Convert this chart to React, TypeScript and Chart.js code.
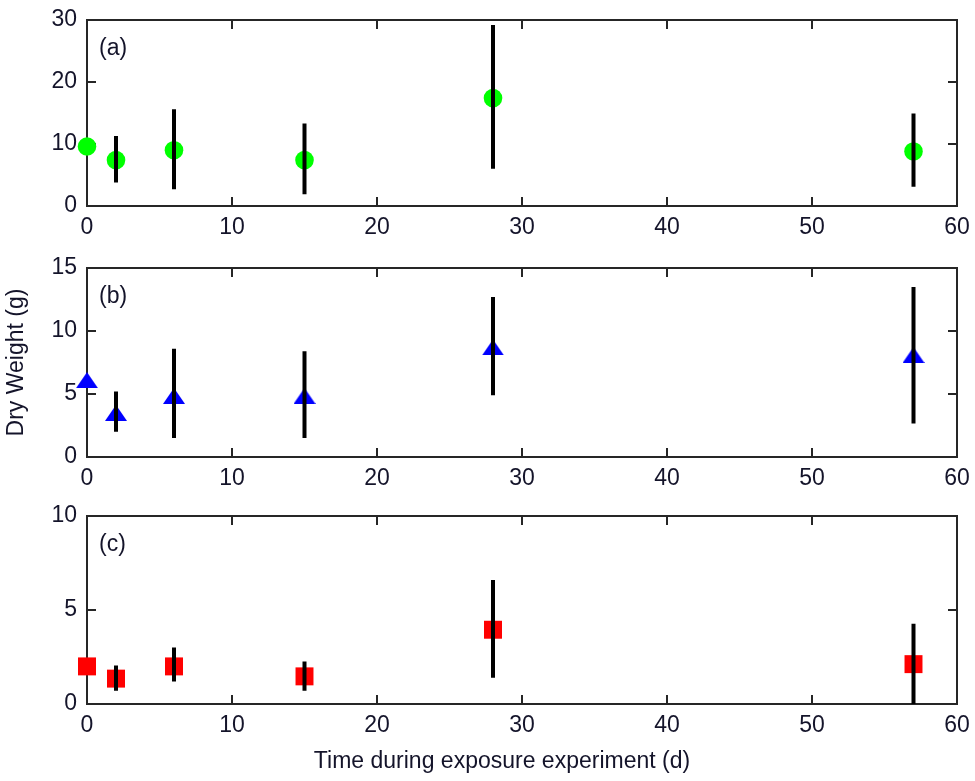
import React, { useEffect, useRef } from 'react';
import { Chart, registerables } from 'chart.js';

Chart.register(...registerables);

// ---------- data ----------
const timeDays = [0, 2, 6, 15, 28, 57];
const xTickValues = [0, 10, 20, 30, 40, 50, 60];

const meanA = [9.6, 7.4, 9.0, 7.4, 17.4, 8.8];
const lowA = [null, 3.8, 2.7, 1.9, 6.0, 3.1];
const highA = [null, 11.3, 15.6, 13.3, 29.2, 14.9];
const yTicksA = [0, 10, 20, 30];

const meanB = [6.1, 3.5, 4.85, 4.85, 8.7, 8.1];
const lowB = [null, 2.0, 1.5, 1.5, 4.9, 2.65];
const highB = [null, 5.2, 8.6, 8.4, 12.7, 13.5];
const yTicksB = [0, 5, 10, 15];

const meanC = [2.0, 1.35, 2.0, 1.47, 3.95, 2.12];
const lowC = [null, 0.7, 1.2, 0.7, 1.4, 0];
const highC = [null, 2.05, 3.0, 2.26, 6.6, 4.27];
const yTicksC = [0, 5, 10];

const panelLabels = ['(a)', '(b)', '(c)'];
const yAxisTitle = 'Dry Weight (g)';
const xAxisTitle = 'Time during exposure experiment (d)';

// ---------- style ----------
const FONT = "'Liberation Sans', Arial, sans-serif";
const FONT_SIZE = 23;
const TEXT_COLOR = '#14142a';
const AXIS_COLOR = '#262626';
const TICK_LEN = 9;
const W = 975;

function makeTriangle(color: string) {
  const c = document.createElement('canvas');
  c.width = 22;
  c.height = 16;
  const g = c.getContext('2d')!;
  g.fillStyle = color;
  g.beginPath();
  g.moveTo(0, 16);
  g.lineTo(22, 16);
  g.lineTo(11, 0);
  g.closePath();
  g.fill();
  return c;
}

const framePlugin = {
  id: 'innerFrame',
  beforeDatasetsDraw(chart: any) {
    const { ctx, chartArea, scales } = chart;
    const { left, right, top, bottom } = chartArea;
    ctx.save();
    ctx.strokeStyle = AXIS_COLOR;
    ctx.lineWidth = 2;
    ctx.beginPath();
    scales.x.ticks.forEach((t: any) => {
      const px = scales.x.getPixelForValue(t.value);
      ctx.moveTo(px, bottom);
      ctx.lineTo(px, bottom - TICK_LEN);
      ctx.moveTo(px, top);
      ctx.lineTo(px, top + TICK_LEN);
    });
    scales.y.ticks.forEach((t: any) => {
      const py = scales.y.getPixelForValue(t.value);
      ctx.moveTo(left, py);
      ctx.lineTo(left + TICK_LEN, py);
      ctx.moveTo(right, py);
      ctx.lineTo(right - TICK_LEN, py);
    });
    ctx.stroke();
    ctx.strokeRect(left, top, right - left, bottom - top);
    ctx.restore();
  },
};

function errorBarPlugin(low: (number | null)[], high: (number | null)[]) {
  return {
    id: 'errorBars',
    afterDatasetsDraw(chart: any) {
      const { ctx, scales, chartArea } = chart;
      ctx.save();
      ctx.beginPath();
      ctx.rect(chartArea.left, chartArea.top, chartArea.right - chartArea.left, chartArea.bottom - chartArea.top);
      ctx.clip();
      ctx.strokeStyle = '#000000';
      ctx.lineWidth = 4;
      ctx.lineCap = 'butt';
      ctx.beginPath();
      timeDays.forEach((x, i) => {
        const lo = low[i];
        const hi = high[i];
        if (lo == null || hi == null) return;
        const px = scales.x.getPixelForValue(x);
        ctx.moveTo(px, scales.y.getPixelForValue(lo));
        ctx.lineTo(px, scales.y.getPixelForValue(hi));
      });
      ctx.stroke();
      ctx.restore();
    },
  };
}

function textPlugin(label: string, xTitle: string) {
  return {
    id: 'panelText',
    afterDraw(chart: any) {
      const { ctx, chartArea } = chart;
      ctx.save();
      ctx.font = `${FONT_SIZE}px ${FONT}`;
      ctx.fillStyle = TEXT_COLOR;
      ctx.textAlign = 'left';
      ctx.textBaseline = 'middle';
      ctx.fillText(label, chartArea.left + 12, chartArea.top + 29);
      if (xTitle) {
        ctx.textAlign = 'center';
        ctx.fillText(xTitle, (chartArea.left + chartArea.right) / 2 - 20, chartArea.bottom + 58);
      }
      ctx.restore();
    },
  };
}

type PanelDef = {
  mean: number[];
  low: (number | null)[];
  high: (number | null)[];
  yTicks: number[];
  label: string;
  color: string;
  marker: 'circle' | 'triangle' | 'square';
  top: number;
  height: number;
  padTop: number;
  xAxisHeight: number;
  yTitle: string;
  xTitle: string;
};

const panels: PanelDef[] = [
  { mean: meanA, low: lowA, high: highA, yTicks: yTicksA, label: panelLabels[0], color: '#00ff00', marker: 'circle', top: 0, height: 240, padTop: 20, xAxisHeight: 34, yTitle: '', xTitle: '' },
  { mean: meanB, low: lowB, high: highB, yTicks: yTicksB, label: panelLabels[1], color: '#0000ff', marker: 'triangle', top: 240, height: 250, padTop: 28, xAxisHeight: 33, yTitle: yAxisTitle, xTitle: '' },
  { mean: meanC, low: lowC, high: highC, yTicks: yTicksC, label: panelLabels[2], color: '#ff0000', marker: 'square', top: 490, height: 291, padTop: 26, xAxisHeight: 77, yTitle: '', xTitle: xAxisTitle },
];

function buildChart(canvas: HTMLCanvasElement, p: PanelDef) {
  let pointStyle: any = 'circle';
  let pointRadius = 9.3;
  if (p.marker === 'triangle') {
    pointStyle = makeTriangle(p.color);
    pointRadius = 11;
  } else if (p.marker === 'square') {
    pointStyle = 'rect';
    pointRadius = 12.7;
  }
  const font = { family: FONT, size: FONT_SIZE };
  const yMin = p.yTicks[0];
  const yMax = p.yTicks[p.yTicks.length - 1];
  return new Chart(canvas, {
    type: 'scatter',
    data: {
      datasets: [
        {
          data: timeDays.map((x, i) => ({ x, y: p.mean[i] })),
          pointStyle,
          pointRadius,
          pointHoverRadius: pointRadius,
          backgroundColor: p.color,
          borderColor: p.color,
          borderWidth: 0,
          showLine: false,
          clip: false,
        } as any,
      ],
    },
    options: {
      responsive: false,
      animation: false,
      events: [],
      layout: { autoPadding: false, padding: { top: p.padTop, right: 18, left: 0, bottom: 0 } },
      plugins: { legend: { display: false }, tooltip: { enabled: false } },
      scales: {
        x: {
          type: 'linear',
          min: xTickValues[0],
          max: xTickValues[xTickValues.length - 1],
          afterBuildTicks: (s: any) => {
            s.ticks = xTickValues.map((v) => ({ value: v }));
          },
          ticks: { padding: 8, color: TEXT_COLOR, font, maxRotation: 0 },
          grid: { display: false, drawTicks: false },
          border: { display: false },
          afterFit: (s: any) => {
            s.height = p.xAxisHeight;
            s.paddingLeft = 0;
            s.paddingRight = 0;
          },
        },
        y: {
          type: 'linear',
          min: yMin,
          max: yMax,
          afterBuildTicks: (s: any) => {
            s.ticks = p.yTicks.map((v) => ({ value: v }));
          },
          ticks: { padding: 10, color: TEXT_COLOR, font },
          grid: { display: false, drawTicks: false },
          border: { display: false },
          title: {
            display: !!p.yTitle,
            text: p.yTitle,
            color: TEXT_COLOR,
            font,
            padding: { top: 3, bottom: 0 },
          },
          afterFit: (s: any) => {
            s.width = 87;
            s.paddingTop = 0;
            s.paddingBottom = 0;
          },
        },
      },
    } as any,
    plugins: [framePlugin, errorBarPlugin(p.low, p.high), textPlugin(p.label, p.xTitle)],
  });
}

export default function App() {
  const refs = [useRef<HTMLCanvasElement>(null), useRef<HTMLCanvasElement>(null), useRef<HTMLCanvasElement>(null)];

  useEffect(() => {
    const charts = panels.map((p, i) => buildChart(refs[i].current!, p));
    return () => charts.forEach((c) => c.destroy());
  }, []);

  return (
    <div style={{ position: 'fixed', left: 0, top: 0, width: W, height: 781, background: '#ffffff' }}>
      {panels.map((p, i) => (
        <canvas
          key={i}
          ref={refs[i]}
          width={W}
          height={p.height}
          style={{ position: 'absolute', left: 0, top: p.top, width: W, height: p.height, display: 'block' }}
        />
      ))}
    </div>
  );
}
